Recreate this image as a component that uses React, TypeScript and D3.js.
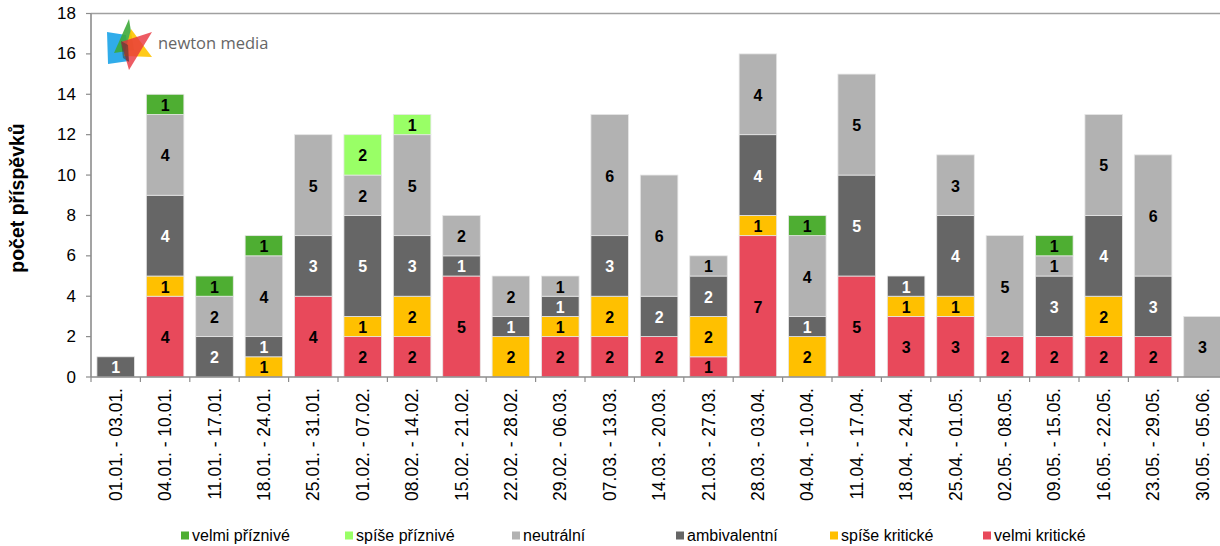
import React from "react";
import * as d3 from "d3";

const categories = [
  "01.01. - 03.01.", "04.01. - 10.01.", "11.01. - 17.01.", "18.01. - 24.01.",
  "25.01. - 31.01.", "01.02. - 07.02.", "08.02. - 14.02.", "15.02. - 21.02.",
  "22.02. - 28.02.", "29.02. - 06.03.", "07.03. - 13.03.", "14.03. - 20.03.",
  "21.03. - 27.03.", "28.03. - 03.04.", "04.04. - 10.04.", "11.04. - 17.04.",
  "18.04. - 24.04.", "25.04. - 01.05.", "02.05. - 08.05.", "09.05. - 15.05.",
  "16.05. - 22.05.", "23.05. - 29.05.", "30.05. - 05.06.",
];

// stack order bottom -> top
const velmiKriticke = [0, 4, 0, 0, 4, 2, 2, 5, 0, 2, 2, 2, 1, 7, 0, 5, 3, 3, 2, 2, 2, 2, 0];
const spiseKriticke = [0, 1, 0, 1, 0, 1, 2, 0, 2, 1, 2, 0, 2, 1, 2, 0, 1, 1, 0, 0, 2, 0, 0];
const ambivalentni = [1, 4, 2, 1, 3, 5, 3, 1, 1, 1, 3, 2, 2, 4, 1, 5, 1, 4, 0, 3, 4, 3, 0];
const neutralni = [0, 4, 2, 4, 5, 2, 5, 2, 2, 1, 6, 6, 1, 4, 4, 5, 0, 3, 5, 1, 5, 6, 3];
const spisePriznive = [0, 0, 0, 0, 0, 2, 1, 0, 0, 0, 0, 0, 0, 0, 0, 0, 0, 0, 0, 0, 0, 0, 0];
const velmiPriznive = [0, 1, 1, 1, 0, 0, 0, 0, 0, 0, 0, 0, 0, 0, 1, 0, 0, 0, 0, 1, 0, 0, 0];

const yTicks = [0, 2, 4, 6, 8, 10, 12, 14, 16, 18];

const seriesNames = ["velmi kritické", "spíše kritické", "ambivalentní", "neutrální", "spíše příznivé", "velmi příznivé"];
const seriesColors = ["#E8495B", "#FFC000", "#666666", "#B2B2B2", "#99FF66", "#4EAE32"];
const seriesTextColors = ["#000", "#000", "#fff", "#000", "#000", "#000"];
const seriesValues = [velmiKriticke, spiseKriticke, ambivalentni, neutralni, spisePriznive, velmiPriznive];

const legendOrder = [5, 4, 3, 2, 1, 0];
const legendX = [181, 345, 512, 676, 830, 983];

export default function App() {
  const W = 1220, H = 546;
  const left = 91, top = 13.5, bottom = 377;
  const band = 49.4;
  const right = left + band * categories.length;

  const x = d3.scaleBand<string>().domain(categories).range([left, right]).paddingInner(0.24).paddingOuter(0.12);
  const y = d3.scaleLinear().domain([0, 18]).range([bottom, top]);

  const table = categories.map((c, i) => {
    const row: any = { cat: c };
    seriesNames.forEach((n, k) => (row[n] = seriesValues[k][i]));
    return row;
  });
  const stacked = d3.stack().keys(seriesNames)(table);
  const font = "Liberation Sans, Arial, sans-serif";

  return (
    <svg width={W} height={H} style={{ position: "absolute", left: 0, top: 0, background: "#fff" }} fontFamily={font}>
      {/* logo */}
      <g>
        <polygon points="107,32 126,35 129,61 108,64" fill="#1AA3E8" opacity={0.9} />
        <polygon points="129,19 134,50 114,53" fill="#3DAA3A" opacity={0.9} />
        <polygon points="131,29 152,57 124,56" fill="#FFC400" opacity={0.9} />
        <polygon points="152,32 129,70 121,42" fill="#E8323C" opacity={0.8} />
        <polygon points="121,41 128,45 129,62 123,58" fill="#333" opacity={0.5} />
        <text x={158} y={49} fontFamily="Open Sans, sans-serif" fontSize={16.5} fill="#666">newton media</text>
      </g>

      {/* top border */}
      <line x1={left} x2={W} y1={top} y2={top} stroke="#A0A0A0" strokeWidth={1.6} />

      {/* bars */}
      {stacked.map((s, k) => (
        <g key={k}>
          {s.map((d: any, i) => {
            const v = d[1] - d[0];
            if (!v) return null;
            const bx = x(categories[i])!;
            const y0 = y(d[0]);
            const y1 = y(d[1]);
            return (
              <g key={i}>
                <rect x={bx} y={y1} width={x.bandwidth()} height={y0 - y1} fill={seriesColors[k]} stroke="#E6E6E6" strokeWidth={0.8} />
                <text x={bx + x.bandwidth() / 2} y={(y0 + y1) / 2 + 1} textAnchor="middle" dominantBaseline="central" fontSize={16} fontWeight="bold" fill={seriesTextColors[k]}>{v}</text>
              </g>
            );
          })}
        </g>
      ))}

      {/* y axis */}
      <line x1={left} x2={left} y1={top} y2={bottom} stroke="#8C8C8C" strokeWidth={1.6} />
      {yTicks.map((t) => (
        <g key={t}>
          <line x1={left - 5} x2={left} y1={y(t)} y2={y(t)} stroke="#8C8C8C" strokeWidth={1.2} />
          <text x={76} y={y(t)} textAnchor="end" dominantBaseline="central" fontSize={17} fill="#000">{t}</text>
        </g>
      ))}
      <text transform={`translate(24,198) rotate(-90)`} textAnchor="middle" fontSize={19.5} fontWeight="bold" fill="#000">počet příspěvků</text>

      {/* x axis */}
      <line x1={left} x2={W} y1={bottom} y2={bottom} stroke="#8C8C8C" strokeWidth={1.6} />
      {categories.map((c, i) => (
        <line key={"t" + i} x1={left + band * i} x2={left + band * i} y1={bottom} y2={bottom + 5} stroke="#8C8C8C" strokeWidth={1.2} />
      ))}
      {categories.map((c, i) => {
        const cx = left + band * (i + 0.5);
        return (
          <text key={"l" + i} transform={`translate(${cx + 6},388) rotate(-90)`} textAnchor="end" fontSize={17.5} fill="#000">{c}</text>
        );
      })}

      {/* legend */}
      {legendOrder.map((k, j) => (
        <g key={k}>
          <rect x={legendX[j]} y={531.5} width={8} height={8} fill={seriesColors[k]} />
          <text x={legendX[j] + 11} y={541} fontSize={16} fill="#000">{seriesNames[k]}</text>
        </g>
      ))}
    </svg>
  );
}
